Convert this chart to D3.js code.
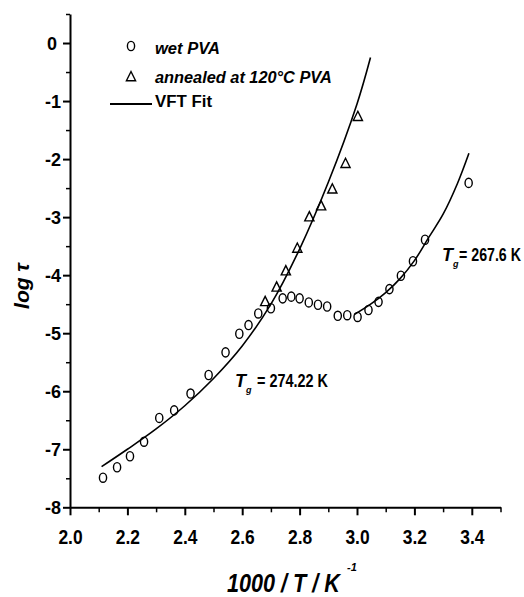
<!DOCTYPE html>
<html><head><meta charset="utf-8">
<script src="https://cdn.jsdelivr.net/npm/d3@7"></script>
<style>
html,body{margin:0;padding:0;background:#fff;}
svg{display:block;}
text{font-family:"Liberation Sans Narrow","Arial Narrow","Liberation Sans",Arial,sans-serif;font-weight:bold;fill:#000;}
</style></head>
<body>
<svg id="c" width="524" height="597"></svg>
<script>
// ---- data ----
const wetX = [2.115, 2.164, 2.209, 2.258, 2.311, 2.363, 2.42, 2.483, 2.542, 2.59, 2.622, 2.656, 2.70, 2.741, 2.771, 2.80, 2.832, 2.864, 2.896, 2.933, 2.966, 3.002, 3.04, 3.075, 3.113, 3.153, 3.195, 3.237, 3.389];
const wetY = [-7.49, -7.31, -7.12, -6.87, -6.46, -6.33, -6.04, -5.72, -5.33, -5.01, -4.86, -4.66, -4.57, -4.40, -4.37, -4.40, -4.47, -4.51, -4.54, -4.70, -4.69, -4.72, -4.60, -4.46, -4.24, -4.01, -3.76, -3.39, -2.41];
const annX = [2.68, 2.72, 2.752, 2.792, 2.834, 2.875, 2.914, 2.96, 3.003];
const annY = [-4.46, -4.21, -3.93, -3.54, -3.00, -2.81, -2.52, -2.08, -1.27];
const fit1X = [2.11, 2.2, 2.3, 2.4, 2.5, 2.6, 2.7, 2.8, 2.9, 3.0, 3.047];
const fit1Y = [-7.30, -7.00, -6.65, -6.25, -5.78, -5.22, -4.50, -3.55, -2.40, -1.05, -0.25];
const fit2X = [2.99, 3.05, 3.10, 3.15, 3.20, 3.25, 3.30, 3.35, 3.39];
const fit2Y = [-4.68, -4.49, -4.30, -4.06, -3.75, -3.35, -2.95, -2.42, -1.90];
const xTicks = [2.0, 2.2, 2.4, 2.6, 2.8, 3.0, 3.2, 3.4];
const xMinor = [2.1, 2.3, 2.5, 2.7, 2.9, 3.1, 3.3, 3.5];
const yTicks = [-8, -7, -6, -5, -4, -3, -2, -1, 0];
const yMinor = [-7.5, -6.5, -5.5, -4.5, -3.5, -2.5, -1.5, -0.5, 0.5];
const legendLabels = ["wet PVA", "annealed at 120°C PVA", "VFT Fit"];
const annot1 = ["T", "g", "= 274.22 K"];
const annot2 = ["T", "g", "= 267.6 K"];

const svg = d3.select("#c");
const x = d3.scaleLinear().domain([2.0, 3.5]).range([70, 500.5]);
const y = d3.scaleLinear().domain([-8, 0.5]).range([507.3, 14]);

// helper: horizontally squeeze a text to a target width (keeps bbox honest)
function squeeze(sel, x0, yB, width){
  const n = sel.node();
  const w = n.getComputedTextLength();
  sel.attr("x",0).attr("y",0).attr("transform",`translate(${x0},${yB}) scale(${width/w},1)`);
}

// minor ticks
svg.append("g").attr("transform","translate(0,507.3)")
  .call(d3.axisBottom(x).tickValues(xMinor).tickFormat("").tickSize(5).tickSizeOuter(0))
  .call(g=>g.select(".domain").remove())
  .call(g=>g.selectAll("line").attr("stroke-width",1.5));
svg.append("g").attr("transform","translate(70,0)")
  .call(d3.axisLeft(y).tickValues(yMinor).tickFormat("").tickSize(4).tickSizeOuter(0))
  .call(g=>g.select(".domain").remove())
  .call(g=>g.selectAll("line").attr("stroke-width",1.5));

// major axes
const xa = svg.append("g").attr("transform","translate(0,507.3)")
  .call(d3.axisBottom(x).tickValues(xTicks).tickFormat(d=>d.toFixed(1)).tickSize(8).tickSizeOuter(0).tickPadding(15));
xa.select(".domain").attr("stroke-width",2);
xa.selectAll("line").attr("stroke-width",2);
xa.selectAll("text").attr("font-size",20).attr("font-family",null).attr("font-weight","bold")
  .each(function(){ const w=this.getComputedTextLength(); d3.select(this).attr("textLength",w*0.87).attr("lengthAdjust","spacingAndGlyphs"); });

const ya = svg.append("g").attr("transform","translate(70,0)")
  .call(d3.axisLeft(y).tickValues(yTicks).tickFormat(d=>String(d)).tickSize(7).tickSizeOuter(0).tickPadding(2));
ya.select(".domain").attr("stroke-width",2);
ya.selectAll("line").attr("stroke-width",2);
ya.selectAll("text").attr("font-size",18).attr("font-family",null).attr("font-weight","bold").attr("dy","0.36em")
  .attr("dx",d=>d===0?-4:0);

// fit lines
const line = d3.line().x(d=>x(d[0])).y(d=>y(d[1])).curve(d3.curveCatmullRom);
svg.append("path").datum(fit1X.map((v,i)=>[v,fit1Y[i]])).attr("d",line)
  .attr("fill","none").attr("stroke","#000").attr("stroke-width",1.6);
svg.append("path").datum(fit2X.map((v,i)=>[v,fit2Y[i]])).attr("d",line)
  .attr("fill","none").attr("stroke","#000").attr("stroke-width",1.6);

// markers
svg.append("g").selectAll("ellipse").data(wetX.map((v,i)=>[v,wetY[i]])).join("ellipse")
  .attr("cx",d=>x(d[0])).attr("cy",d=>y(d[1])).attr("rx",3.6).attr("ry",4.6)
  .attr("fill","none").attr("stroke","#000").attr("stroke-width",1.4);
const tri = "M0,-5.5L4.6,3.8L-4.6,3.8Z";
svg.append("g").selectAll("path").data(annX.map((v,i)=>[v,annY[i]])).join("path")
  .attr("transform",d=>`translate(${x(d[0])},${y(d[1])})`).attr("d",tri)
  .attr("fill","none").attr("stroke","#000").attr("stroke-width",1.4);

// legend
svg.append("ellipse").attr("cx",131).attr("cy",46).attr("rx",3.6).attr("ry",4.6)
  .attr("fill","none").attr("stroke","#000").attr("stroke-width",1.4);
svg.append("path").attr("transform","translate(131,77)").attr("d",tri)
  .attr("fill","none").attr("stroke","#000").attr("stroke-width",1.4);
svg.append("line").attr("x1",110).attr("x2",152).attr("y1",104).attr("y2",104)
  .attr("stroke","#000").attr("stroke-width",1.8);
squeeze(svg.append("text").attr("font-size",17).attr("font-style","italic").text(legendLabels[0]), 155, 54, 65);
squeeze(svg.append("text").attr("font-size",17).attr("font-style","italic").text(legendLabels[1]), 155, 83, 177);
squeeze(svg.append("text").attr("font-size",17).text(legendLabels[2]), 155, 107, 57);

// annotations
function annot(a, xT, yB, xRest, lenRest){
  svg.append("text").attr("x",xT).attr("y",yB).attr("font-size",18).attr("font-style","italic").text(a[0]);
  svg.append("text").attr("x",xT+11).attr("y",yB+6).attr("font-size",9).attr("font-style","italic").text(a[1]);
  squeeze(svg.append("text").attr("font-size",18).text(a[2]), xRest, yB, lenRest);
}
annot(annot1, 235, 387, 257, 71);
annot(annot2, 442, 261, 459, 62);

// axis titles
svg.append("text").attr("transform","translate(29,286) rotate(-90)").attr("text-anchor","middle")
  .attr("font-size",21).attr("font-style","italic").text("log τ");
squeeze(svg.append("text").attr("font-size",26).attr("font-style","italic").text("1000 / T / K"), 227, 592, 113);
svg.append("text").attr("x",347).attr("y",571).attr("font-size",11).attr("font-style","italic").text("-1");
</script>
</body></html>
